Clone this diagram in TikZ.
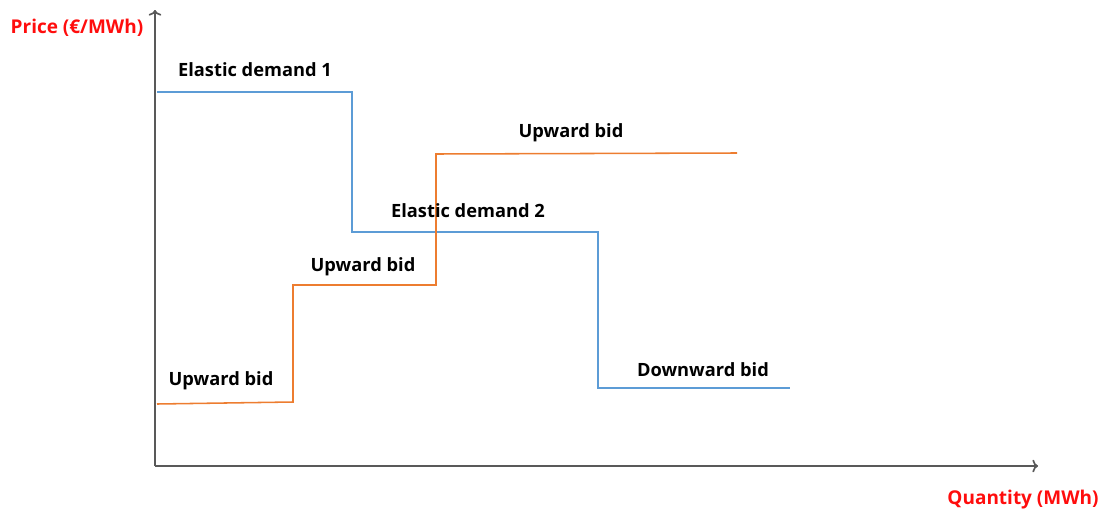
\documentclass[tikz,border=0pt]{standalone}
\usepackage{fontspec}
\setmainfont{Open Sans}
\usepackage{tikz}
\usetikzlibrary{arrows.meta}
\usetikzlibrary{positioning}
\tikzset{axis/.style = {draw=axisgray, line width=1.2pt, -{To[length=4pt, width=9pt]}}}
\tikzset{demand/.style = {draw=mblue, line width=1.1pt}}
\tikzset{bid/.style = {draw=morange, line width=1.1pt}}
\tikzset{lbl/.style = {font=\bfseries\fontsize{13}{15}\selectfont, inner sep=0}}
\tikzset{axlbl/.style = {lbl, font=\bfseries\fontsize{13.5}{15}\selectfont, text=mred}}
\definecolor{mblue}{rgb}{0.36, 0.61, 0.84}
\definecolor{morange}{rgb}{0.93, 0.49, 0.19}
\definecolor{axisgray}{rgb}{0.35, 0.35, 0.35}
\definecolor{mred}{rgb}{1, 0.05, 0.05}

\begin{document}
\begin{tikzpicture}[x=0.025cm, y=-0.025cm]
    \useasboundingbox (0, 0) rectangle (1103, 513);

    \coordinate (o) at (155, 466);
    \coordinate (ytop) at (155, 10);
    \coordinate (xend) at (1038, 466);
    \draw [axis] (o) -- (ytop);
    \draw [axis] (o) -- (xend);
    \node [axlbl] (price) at (77, 28) {Price (€/MWh)};
    \node [axlbl] (qty) at (1023, 500) {Quantity (MWh)};

    % demand steps
    \draw [demand] (157, 92) -- (352, 92) -- (352, 232) -- (598, 232) -- (598, 388) -- (790, 388);

    % bid steps
    \draw [bid] (157, 404) -- (293, 402) -- (293, 285) -- (436, 285) -- (436, 154) -- (737, 153);

    \node [lbl] (ed1) at (255, 70) {Elastic demand 1};
    \node [lbl] (ed2) at (468, 211) {Elastic demand 2};
    \node [lbl] (up1) at (221, 381) {Upward bid};
    \node [lbl] (up2) at (363, 267) {Upward bid};
    \node [lbl] (up3) at (571, 133) {Upward bid};
    \node [lbl] (down) at (703, 370) {Downward bid};
  \end{tikzpicture}
\end{document}
